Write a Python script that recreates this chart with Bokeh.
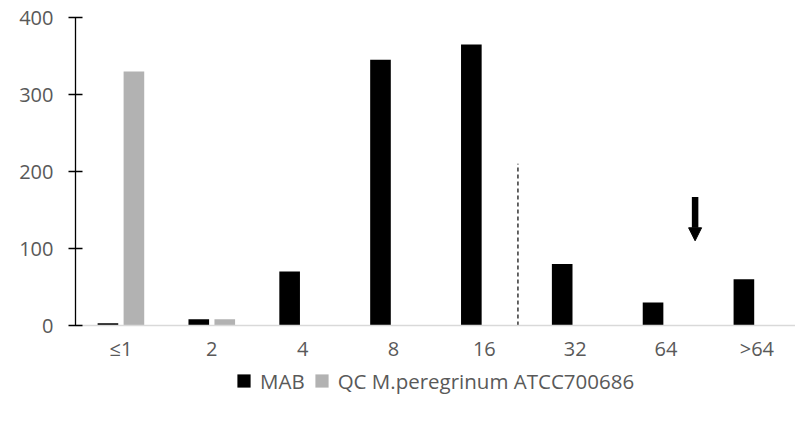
from bokeh.plotting import figure
from bokeh.layouts import column
from bokeh.models import (Range1d, FixedTicker, Legend, LegendItem, Arrow,
                          NormalHead, ColumnDataSource)
from bokeh.transform import dodge
from bokeh.embed import file_html
from bokeh.resources import INLINE

# ---- data ----
categories = ["≤1", "2", "4", "8", "16", "32", "64", ">64"]
mab = [3, 8, 70, 345, 365, 80, 30, 60]
qc = [330, 8, 0, 0, 0, 0, 0, 0]
y_ticks = [0, 100, 200, 300, 400]
series_names = ["MAB", "QC M.peregrinum ATCC700686"]
series_colors = ["#000000", "#B2B2B2"]

# ---- annotation positions (data units) ----
cutoff_x = 4.37        # dashed breakpoint line
cutoff_top = 210
arrow_x = 6.32
arrow_top = 167
arrow_tip = 110

FONT = "Open Sans"
TEXT_COLOR = "#595959"
FS = "20px"

xs = list(range(len(categories)))
src = ColumnDataSource(dict(x=xs, mab=mab, qc=qc))

p = figure(width=795, height=364, output_backend="svg", toolbar_location=None,
           x_range=Range1d(-0.5, 7.425), y_range=Range1d(0, 400),
           min_border_left=75, min_border_top=17, min_border_right=0,
           min_border_bottom=0)
p.frame_align = False
p.outline_line_color = None
p.xgrid.visible = False
p.ygrid.visible = False

p.vbar(x=dodge("x", -0.143, range=p.x_range), top="mab", width=0.227,
       source=src, fill_color=series_colors[0], line_color=None)
p.vbar(x=dodge("x", 0.143, range=p.x_range), top="qc", width=0.227,
       source=src, fill_color=series_colors[1], line_color=None)

# dashed cutoff line
p.segment(x0=[cutoff_x], y0=[0], x1=[cutoff_x], y1=[cutoff_top],
          line_color="black", line_width=1.2, line_dash="4 3")

# arrow
p.add_layout(Arrow(x_start=arrow_x, y_start=arrow_top, x_end=arrow_x, y_end=arrow_tip,
                   line_color="black", line_width=6.5,
                   end=NormalHead(size=13, fill_color="black", line_color="black", line_width=1)))

# y axis
ya = p.yaxis[0]
ya.ticker = FixedTicker(ticks=y_ticks)
ya.axis_line_color = "black"
ya.axis_line_width = 1.3
ya.major_tick_line_color = "black"
ya.major_tick_line_width = 1.3
ya.major_tick_in = 7
ya.major_tick_out = 7
ya.minor_tick_line_color = None
ya.major_label_standoff = 15
ya.major_label_text_font = FONT
ya.major_label_text_font_size = FS
ya.major_label_text_color = TEXT_COLOR

# x axis
xa = p.xaxis[0]
xa.ticker = FixedTicker(ticks=xs)
xa.major_label_overrides = {i: c for i, c in zip(xs, categories)}
xa.axis_line_color = "#D9D9D9"
xa.axis_line_width = 1.5
xa.major_tick_line_color = None
xa.major_tick_in = 0
xa.major_tick_out = 0
xa.minor_tick_line_color = None
xa.major_label_standoff = 9
xa.major_label_text_font = FONT
xa.major_label_text_font_size = FS
xa.major_label_text_color = TEXT_COLOR

# ---- legend strip ----
lg = figure(width=795, height=52, output_backend="svg", toolbar_location=None,
            x_range=Range1d(0, 1), y_range=Range1d(0, 1),
            x_axis_type=None, y_axis_type=None,
            min_border_left=227, min_border_top=0, min_border_right=0,
            min_border_bottom=0)
lg.frame_align = False
lg.outline_line_color = None
lg.xgrid.visible = False
lg.ygrid.visible = False
items = []
for name, col in zip(series_names, series_colors):
    # placeholder glyph outside the visible range, only used for the legend swatch
    r = lg.scatter(x=[-5], y=[-5], marker="square", size=13,
                   fill_color=col, line_color=None)
    items.append(LegendItem(label=name, renderers=[r]))
legend = Legend(items=items, orientation="horizontal", location="top_left",
                glyph_width=33, glyph_height=33, label_standoff=-5, spacing=-6,
                padding=0, margin=0, border_line_color=None,
                background_fill_alpha=0,
                label_text_font=FONT, label_text_font_size="20.5px",
                label_text_color=TEXT_COLOR)
lg.add_layout(legend, "center")

layout = column(p, lg, spacing=0)
open("out.html", "w").write(file_html(layout, INLINE))
